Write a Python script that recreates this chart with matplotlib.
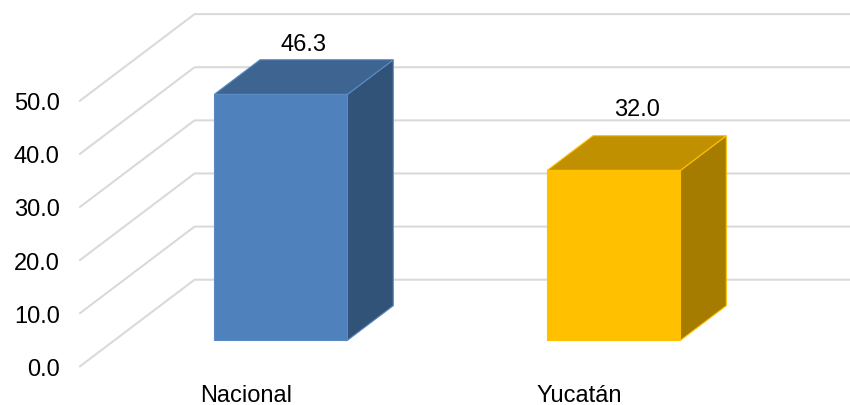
import numpy as np
import matplotlib
matplotlib.use("Agg")
import matplotlib.pyplot as plt
from matplotlib.patches import Polygon

plt.rcParams['font.family'] = ['Liberation Sans', 'DejaVu Sans']

categories = ["Nacional", "Yucatán"]
values = [46.3, 32.0]
value_labels = ["46.3", "32.0"]
y_ticks = [0, 10, 20, 30, 40, 50]
y_tick_labels = ["0.0", "10.0", "20.0", "30.0", "40.0", "50.0"]

front_colors = ["#4f81bd", "#ffc000"]
top_colors = ["#3e6491", "#c09000"]
side_colors = ["#325378", "#a67c00"]
edge_colors = ["#5b8ac4", "#ffc000"]

# depth of the 3d box, in data units of each axis
depth_x = 0.344
depth_y = 16.3
bar_width = 0.4
label_lift = [3.0, 5.0]	# gap over the back edge of each bar top

W, H = 850, 406
fig = plt.figure(figsize=(W/100, H/100), dpi=100)
ax = fig.add_axes([80/W, (H-367.3)/H, 666/W, 265.6/H])
ax.set_xlim(-0.5, 1.5)
ax.set_ylim(0, 50)
for s in ax.spines.values():
	s.set_visible(False)
ax.patch.set_visible(False)

# floor/wall grid: diagonal on the side, then straight along the back wall
for t in y_ticks:
	ax.plot([-0.5, -0.5+depth_x, 1.5+depth_x], [t, t+depth_y, t+depth_y],
		color="#d9d9d9", lw=1.45, clip_on=False, zorder=1)

def shift(x, y, d):
	return (x + d*depth_x, y + d*depth_y)

for i, v in enumerate(values):
	x0 = i - bar_width/2
	x1 = i + bar_width/2
	front = [shift(x0, 0, .3), shift(x1, 0, .3), shift(x1, v, .3), shift(x0, v, .3)]
	top = [shift(x0, v, .3), shift(x1, v, .3), shift(x1, v, .7), shift(x0, v, .7)]
	side = [shift(x1, 0, .3), shift(x1, 0, .7), shift(x1, v, .7), shift(x1, v, .3)]
	for pts, c in [(side, side_colors[i]), (top, top_colors[i]), (front, front_colors[i])]:
		ax.add_patch(Polygon(pts, closed=True, facecolor=c, edgecolor=edge_colors[i],
			lw=0.8, joinstyle="miter", clip_on=False, zorder=3))
	lx, ly = shift(i, v, .5)
	ax.text(lx, v + .7*depth_y + label_lift[i], value_labels[i], ha="center", va="center",
		fontsize=17, color="black", zorder=4)

ax.set_xticks(range(len(categories)))
ax.set_xticklabels(categories, fontsize=17, color="black")
ax.set_yticks(y_ticks)
ax.set_yticklabels(y_tick_labels, fontsize=17, color="black")
ax.tick_params(axis="x", length=0, pad=12.5)
ax.tick_params(axis="y", length=0, pad=14.5)

fig.savefig("out.png", dpi=100)
